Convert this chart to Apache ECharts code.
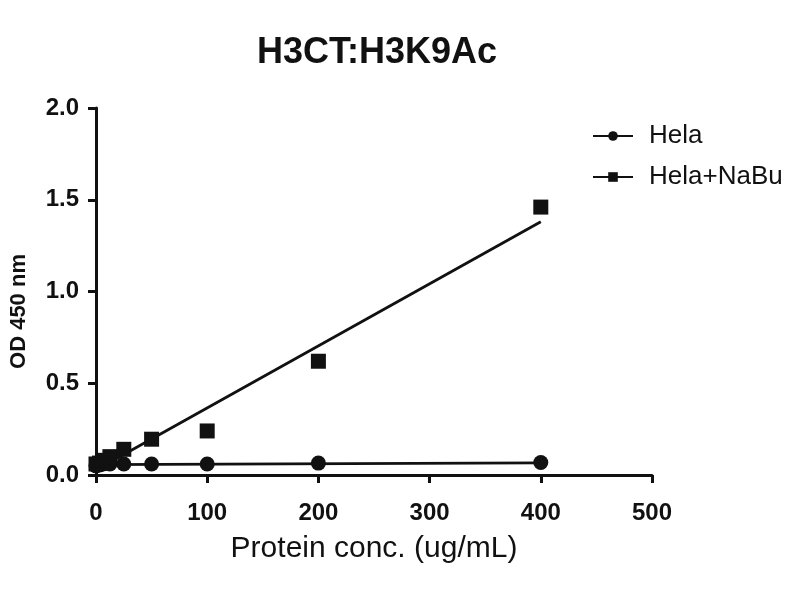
<!DOCTYPE html>
<html>
<head>
<meta charset="utf-8">
<script src="https://cdn.jsdelivr.net/npm/echarts@6/dist/echarts.min.js"></script>
<style>html,body{margin:0;padding:0;background:#fff}#c{width:800px;height:600px}</style>
</head>
<body>
<div id="c"></div>
<script>
// Data
const concentrations = [0, 3.125, 6.25, 12.5, 25, 50, 100, 200, 400];
const helaValues = [0.05, 0.055, 0.06, 0.06, 0.06, 0.06, 0.06, 0.065, 0.068];
const nabuValues = [0.06, 0.065, 0.08, 0.10, 0.14, 0.195, 0.24, 0.62, 1.46];
const helaFit = [[0, 0.057], [400, 0.066]];
const nabuFit = [[0, 0.027], [400, 1.38]];
const seriesNames = ['Hela', 'Hela+NaBu'];
const xTicks = [0, 100, 200, 300, 400, 500];
const yTicks = [0, 0.5, 1.0, 1.5, 2.0];

const FONT = '"Liberation Sans", Arial, sans-serif';
const INK = '#111';
const pts = (ys) => concentrations.map((x, i) => [x, ys[i]]);

const chart = echarts.init(document.getElementById('c'), null, {renderer: 'canvas'});
chart.setOption({
  backgroundColor: '#fff',
  animation: false,
  title: {
    text: 'H3CT:H3K9Ac',
    left: 372, top: 30, textAlign: 'center',
    textStyle: {fontFamily: FONT, fontWeight: 'bold', fontSize: 36, color: INK}
  },
  legend: {
    data: seriesNames,
    orient: 'vertical',
    left: 587, top: 118,
    itemWidth: 40, itemHeight: 12, itemGap: 15,
    textStyle: {fontFamily: FONT, fontSize: 26, color: INK, padding: [0, 0, 0, 11]}
  },
  grid: {left: 93, right: 148, top: 108, bottom: 125, containLabel: false},
  xAxis: {
    type: 'value', min: xTicks[0], max: xTicks[xTicks.length - 1], interval: 100,
    name: 'Protein conc. (ug/mL)', nameLocation: 'middle', nameGap: 59,
    nameTextStyle: {fontFamily: FONT, fontSize: 30, color: INK},
    axisLine: {lineStyle: {color: INK, width: 3}},
    axisTick: {show: true, length: 8, lineStyle: {color: INK, width: 3}},
    axisLabel: {fontFamily: FONT, fontWeight: 'bold', fontSize: 24, color: INK, margin: 26},
    splitLine: {show: false}
  },
  yAxis: {
    type: 'value', min: yTicks[0], max: yTicks[yTicks.length - 1], interval: 0.5,
    name: 'OD 450 nm', nameLocation: 'middle', nameGap: 66, nameRotate: 90,
    nameTextStyle: {fontFamily: FONT, fontWeight: 'bold', fontSize: 22, color: INK, padding: [0, 40, 0, 0]},
    axisLine: {show: true, lineStyle: {color: INK, width: 3}},
    axisTick: {show: true, length: 8, lineStyle: {color: INK, width: 3}},
    axisLabel: {fontFamily: FONT, fontWeight: 'bold', fontSize: 24, color: INK, margin: 17,
      formatter: (v) => v.toFixed(1)},
    splitLine: {show: false}
  },
  series: [
    {name: seriesNames[0], type: 'line', data: helaFit, symbol: 'circle', symbolSize: 12,
     showSymbol: false, lineStyle: {color: INK, width: 2.8}, itemStyle: {color: INK}, silent: true, z: 2},
    {name: seriesNames[1], type: 'line', data: nabuFit, symbol: 'rect', symbolSize: 12,
     showSymbol: false, lineStyle: {color: INK, width: 2.8}, itemStyle: {color: INK}, silent: true, z: 2},
    {name: seriesNames[0], type: 'scatter', data: pts(helaValues), symbol: 'circle', symbolSize: 15,
     itemStyle: {color: INK, opacity: 1}, z: 3},
    {name: seriesNames[1], type: 'scatter', data: pts(nabuValues), symbol: 'rect', symbolSize: 15,
     itemStyle: {color: INK, opacity: 1}, z: 3}
  ]
});
</script>
</body>
</html>
